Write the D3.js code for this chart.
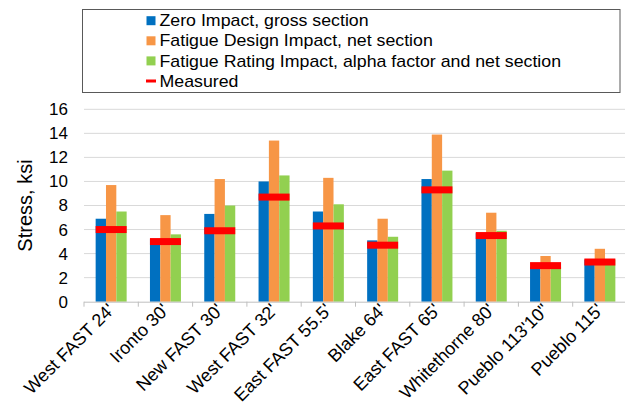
<!DOCTYPE html>
<html>
<head>
<meta charset="utf-8">
<script src="https://cdn.jsdelivr.net/npm/d3@7"></script>
<style>
  html, body { margin: 0; padding: 0; background: #fff; }
  svg { display: block; font-family: "Liberation Sans", Arial, sans-serif; }
</style>
</head>
<body>
<svg id="chart" width="625" height="416"></svg>
<script>
const categories = ["West FAST 24'", "Ironto 30'", "New FAST 30'", "West FAST 32'", "East FAST 55.5'", "Blake 64'", "East FAST 65'", "Whitethorne 80'", "Pueblo 113'10\"", "Pueblo 115'"];
const zeroImpact = [6.9, 5.2, 7.3, 10.0, 7.5, 5.1, 10.2, 5.7, 2.9, 3.5];
const designImpact = [9.7, 7.2, 10.2, 13.4, 10.3, 6.9, 13.9, 7.4, 3.8, 4.4];
const ratingImpact = [7.5, 5.6, 8.0, 10.5, 8.1, 5.4, 10.9, 5.9, 2.9, 3.5];
const measured = [6.0, 5.0, 5.9, 8.7, 6.3, 4.7, 9.3, 5.5, 3.0, 3.3];
const seriesNames = ["Zero Impact, gross section", "Fatigue Design Impact, net section", "Fatigue Rating Impact, alpha factor and net section"];
const measuredName = "Measured";
const yTicks = [0, 2, 4, 6, 8, 10, 12, 14, 16];
const colors = ["#0070C0", "#F79646", "#92D050"];
const measuredColor = "#FF0000";

const svg = d3.select("#chart");
const plot = { left: 84, right: 627, top: 109.3, bottom: 301.7 };

const x = d3.scaleBand().domain(categories).range([plot.left, plot.right]).paddingInner(0).paddingOuter(0);
const y = d3.scaleLinear().domain([0, 16]).range([plot.bottom, plot.top]);
const groupW = 31;
const xs = d3.scaleBand().domain([0, 1, 2]).range([0, groupW]);

// gridlines
svg.append("g").selectAll("line").data(yTicks.filter(d => d > 0)).join("line")
  .attr("x1", plot.left).attr("x2", 625)
  .attr("y1", d => y(d)).attr("y2", d => y(d))
  .attr("stroke", "#d9d9d9").attr("stroke-width", 1);

// bars
const series = [zeroImpact, designImpact, ratingImpact];
const groups = svg.append("g").selectAll("g").data(categories).join("g")
  .attr("transform", d => `translate(${x(d) + (x.bandwidth() - groupW) / 2},0)`);
groups.selectAll("rect.bar").data((d, i) => series.map((s, k) => ({ k, v: s[i] }))).join("rect")
  .attr("class", "bar")
  .attr("x", d => xs(d.k)).attr("width", xs.bandwidth())
  .attr("y", d => y(d.v)).attr("height", d => y(0) - y(d.v))
  .attr("fill", d => colors[d.k]);

// x axis
const xAxis = d3.axisBottom(x).tickSize(0).tickFormat(d => d);
const gx = svg.append("g").attr("transform", `translate(0,${plot.bottom})`).call(xAxis);
gx.select(".domain").attr("stroke", "#bfbfbf").attr("d", `M${plot.left},0.5H625`);
gx.selectAll(".tick text")
  .attr("font-size", 18).attr("fill", "#000")
  .attr("text-anchor", "end")
  .attr("transform", "translate(0,5) rotate(-45)")
  .attr("dy", "0.35em").attr("y", 0).attr("x", 0);
// tick marks at band edges
svg.append("g").selectAll("line").data(categories).join("line")
  .attr("x1", d => x(d)).attr("x2", d => x(d))
  .attr("y1", plot.bottom).attr("y2", plot.bottom + 5)
  .attr("stroke", "#bfbfbf");

// measured markers
groups.append("rect")
  .attr("x", 0).attr("width", groupW)
  .attr("y", (d, i) => y(measured[i]) - 3.5).attr("height", 7)
  .attr("fill", measuredColor);

// y axis
const yAxis = d3.axisLeft(y).tickValues(yTicks).tickSize(0).tickPadding(0);
const gy = svg.append("g").attr("transform", `translate(68,0)`).call(yAxis);
gy.select(".domain").remove();
gy.selectAll(".tick text").attr("font-size", 17).attr("fill", "#000");

svg.append("text")
  .attr("transform", `translate(32,${(plot.top + plot.bottom) / 2}) rotate(-90)`)
  .attr("text-anchor", "middle").attr("font-size", 20).attr("fill", "#000")
  .text("Stress, ksi");

// legend
const lg = svg.append("g");
lg.append("rect").attr("x", 82.5).attr("y", 9.5).attr("width", 537.5).attr("height", 83)
  .attr("fill", "#fff").attr("stroke", "#595959").attr("stroke-width", 1);
const legendItems = seriesNames.map((n, i) => ({ n, c: colors[i], type: "box" }))
  .concat([{ n: measuredName, c: measuredColor, type: "line" }]);
const li = lg.selectAll("g.item").data(legendItems).join("g").attr("class", "item")
  .attr("transform", (d, i) => `translate(0,${20.7 + i * 20.1})`);
li.filter(d => d.type === "box").append("rect")
  .attr("x", 146.5).attr("y", -4.5).attr("width", 9).attr("height", 9).attr("fill", d => d.c);
li.filter(d => d.type === "line").append("rect")
  .attr("x", 146).attr("y", -1.5).attr("width", 10).attr("height", 3).attr("fill", d => d.c);
li.append("text").attr("transform", "translate(159.5,0) scale(1.11,1)").attr("dy", "0.35em")
  .attr("font-size", 16).attr("fill", "#000").text(d => d.n);
</script>
</body>
</html>
